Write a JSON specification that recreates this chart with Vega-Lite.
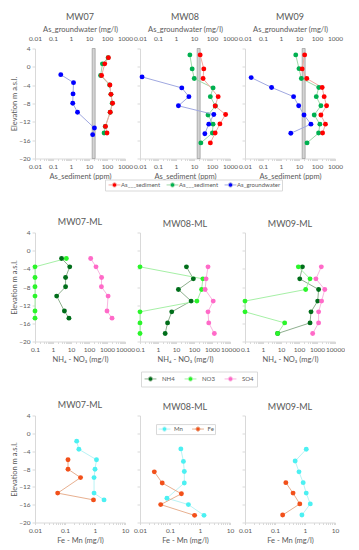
{
"$schema": "https://vega.github.io/schema/vega-lite/v6.json",
"padding": {"left": 10, "top": 12.5, "right": 0, "bottom": 0},
"background": "white",
"columns": 3,
"spacing": {"row": 74, "column": 15},
"bounds": "flush",
"datasets": {
"as": [
{"w":"MW07","v":"sedG","e":2.0,"x":115},{"w":"MW07","v":"sedG","e":0.65,"x":56},{"w":"MW07","v":"sedG","e":-1.9,"x":44},{"w":"MW07","v":"sedG","e":-3.95,"x":140},{"w":"MW07","v":"sedG","e":-6.0,"x":165},{"w":"MW07","v":"sedG","e":-7.95,"x":195},{"w":"MW07","v":"sedG","e":-9.9,"x":150},{"w":"MW07","v":"sedG","e":-13.0,"x":80},{"w":"MW07","v":"sedG","e":-14.45,"x":69},
{"w":"MW07","v":"sedR","e":2.0,"x":120},{"w":"MW07","v":"sedR","e":0.65,"x":75},{"w":"MW07","v":"sedR","e":-1.9,"x":50},{"w":"MW07","v":"sedR","e":-3.95,"x":145},{"w":"MW07","v":"sedR","e":-6.0,"x":166},{"w":"MW07","v":"sedR","e":-7.95,"x":204},{"w":"MW07","v":"sedR","e":-9.9,"x":151},{"w":"MW07","v":"sedR","e":-13.0,"x":82},{"w":"MW07","v":"sedR","e":-14.45,"x":100},
{"w":"MW07","v":"gw","e":-1.7,"x":0.27},{"w":"MW07","v":"gw","e":-3.45,"x":1.38},{"w":"MW07","v":"gw","e":-5.9,"x":1.3},{"w":"MW07","v":"gw","e":-7.95,"x":1.25},{"w":"MW07","v":"gw","e":-9.9,"x":2.3},{"w":"MW07","v":"gw","e":-13.35,"x":20},{"w":"MW07","v":"gw","e":-14.8,"x":16},
{"w":"MW08","v":"sedG","e":2.6,"x":5.9},{"w":"MW08","v":"sedG","e":-0.45,"x":7.9},{"w":"MW08","v":"sedG","e":-2.55,"x":10.3},{"w":"MW08","v":"sedG","e":-4.6,"x":115},{"w":"MW08","v":"sedG","e":-6.5,"x":81},{"w":"MW08","v":"sedG","e":-8.55,"x":155},{"w":"MW08","v":"sedG","e":-10.5,"x":60},{"w":"MW08","v":"sedG","e":-12.5,"x":115},{"w":"MW08","v":"sedG","e":-14.45,"x":105},{"w":"MW08","v":"sedG","e":-16.6,"x":24},
{"w":"MW08","v":"sedR","e":2.6,"x":22},{"w":"MW08","v":"sedR","e":-0.45,"x":35},{"w":"MW08","v":"sedR","e":-2.55,"x":32},{"w":"MW08","v":"sedR","e":-6.5,"x":220},{"w":"MW08","v":"sedR","e":-8.55,"x":150},{"w":"MW08","v":"sedR","e":-10.4,"x":570},{"w":"MW08","v":"sedR","e":-12.45,"x":275},{"w":"MW08","v":"sedR","e":-14.45,"x":150},{"w":"MW08","v":"sedR","e":-16.6,"x":81},
{"w":"MW08","v":"gw","e":-2.2,"x":0.013},{"w":"MW08","v":"gw","e":-4.6,"x":2.1},{"w":"MW08","v":"gw","e":-6.5,"x":5.2},{"w":"MW08","v":"gw","e":-8.5,"x":1.36},{"w":"MW08","v":"gw","e":-10.4,"x":126},{"w":"MW08","v":"gw","e":-12.5,"x":66},{"w":"MW08","v":"gw","e":-14.6,"x":40},
{"w":"MW09","v":"sedG","e":2.6,"x":6.6},{"w":"MW09","v":"sedG","e":-0.4,"x":10},{"w":"MW09","v":"sedG","e":-2.55,"x":13.5},{"w":"MW09","v":"sedG","e":-4.5,"x":126},{"w":"MW09","v":"sedG","e":-6.5,"x":91},{"w":"MW09","v":"sedG","e":-8.5,"x":165},{"w":"MW09","v":"sedG","e":-10.5,"x":70},{"w":"MW09","v":"sedG","e":-12.5,"x":145},{"w":"MW09","v":"sedG","e":-14.45,"x":123},{"w":"MW09","v":"sedG","e":-16.6,"x":28},
{"w":"MW09","v":"sedR","e":2.6,"x":20.6},{"w":"MW09","v":"sedR","e":-0.45,"x":15},{"w":"MW09","v":"sedR","e":-2.55,"x":27},{"w":"MW09","v":"sedR","e":-4.5,"x":194},{"w":"MW09","v":"sedR","e":-6.5,"x":250},{"w":"MW09","v":"sedR","e":-8.5,"x":340},{"w":"MW09","v":"sedR","e":-10.5,"x":165},{"w":"MW09","v":"sedR","e":-12.5,"x":295},{"w":"MW09","v":"sedR","e":-14.45,"x":204},
{"w":"MW09","v":"gw","e":-2.35,"x":0.022},{"w":"MW09","v":"gw","e":-4.5,"x":0.3},{"w":"MW09","v":"gw","e":-6.5,"x":5},{"w":"MW09","v":"gw","e":-8.5,"x":9.6},{"w":"MW09","v":"gw","e":-10.5,"x":19},{"w":"MW09","v":"gw","e":-12.5,"x":46},{"w":"MW09","v":"gw","e":-14.5,"x":3.5}
],
"n": [
{"w":"MW07","v":"NH4","e":-1.72,"x":3.0},{"w":"MW07","v":"NH4","e":-3.56,"x":8.5},{"w":"MW07","v":"NH4","e":-5.9,"x":5.0},{"w":"MW07","v":"NH4","e":-7.96,"x":5.0},{"w":"MW07","v":"NH4","e":-10.0,"x":1.6},{"w":"MW07","v":"NH4","e":-13.3,"x":4.3},{"w":"MW07","v":"NH4","e":-14.86,"x":7.7},
{"w":"MW07","v":"NO3","e":-1.72,"x":5.5},{"w":"MW07","v":"NO3","e":-3.56,"x":0.1},{"w":"MW07","v":"NO3","e":-5.9,"x":0.1},{"w":"MW07","v":"NO3","e":-7.96,"x":0.1},{"w":"MW07","v":"NO3","e":-10.0,"x":0.1},{"w":"MW07","v":"NO3","e":-13.3,"x":0.1},{"w":"MW07","v":"NO3","e":-14.86,"x":0.1},
{"w":"MW07","v":"SO4","e":-1.72,"x":124},{"w":"MW07","v":"SO4","e":-3.56,"x":245},{"w":"MW07","v":"SO4","e":-5.9,"x":500},{"w":"MW07","v":"SO4","e":-7.96,"x":490},{"w":"MW07","v":"SO4","e":-10.0,"x":1150},{"w":"MW07","v":"SO4","e":-13.3,"x":1000},{"w":"MW07","v":"SO4","e":-14.86,"x":1900},
{"w":"MW08","v":"NH4","e":-3.56,"x":38},{"w":"MW08","v":"NH4","e":-6.2,"x":92},{"w":"MW08","v":"NH4","e":-8.55,"x":13.6},{"w":"MW08","v":"NH4","e":-11.1,"x":69},{"w":"MW08","v":"NH4","e":-13.47,"x":5.8},{"w":"MW08","v":"NH4","e":-15.9,"x":3.4},{"w":"MW08","v":"NH4","e":-18.24,"x":2.5},
{"w":"MW08","v":"NO3","e":-3.56,"x":0.1},{"w":"MW08","v":"NO3","e":-6.2,"x":310},{"w":"MW08","v":"NO3","e":-8.55,"x":265},{"w":"MW08","v":"NO3","e":-11.1,"x":145},{"w":"MW08","v":"NO3","e":-13.47,"x":0.1},{"w":"MW08","v":"NO3","e":-15.9,"x":0.1},{"w":"MW08","v":"NO3","e":-18.24,"x":0.1},
{"w":"MW08","v":"SO4","e":-3.56,"x":600},{"w":"MW08","v":"SO4","e":-6.2,"x":470},{"w":"MW08","v":"SO4","e":-8.55,"x":415},{"w":"MW08","v":"SO4","e":-11.1,"x":1170},{"w":"MW08","v":"SO4","e":-13.47,"x":600},{"w":"MW08","v":"SO4","e":-15.9,"x":660},{"w":"MW08","v":"SO4","e":-18.24,"x":1350},
{"w":"MW09","v":"NH4","e":-3.56,"x":155},{"w":"MW09","v":"NH4","e":-6.2,"x":110},{"w":"MW09","v":"NH4","e":-8.55,"x":1230},{"w":"MW09","v":"NH4","e":-11.1,"x":1090},{"w":"MW09","v":"NH4","e":-13.47,"x":465},{"w":"MW09","v":"NH4","e":-15.9,"x":410},{"w":"MW09","v":"NH4","e":-18.24,"x":6.5},
{"w":"MW09","v":"NO3","e":-3.56,"x":92},{"w":"MW09","v":"NO3","e":-6.2,"x":410},{"w":"MW09","v":"NO3","e":-8.55,"x":235},{"w":"MW09","v":"NO3","e":-11.1,"x":0.1},{"w":"MW09","v":"NO3","e":-13.47,"x":0.1},{"w":"MW09","v":"NO3","e":-15.9,"x":16},{"w":"MW09","v":"NO3","e":-18.24,"x":6.5},
{"w":"MW09","v":"SO4","e":-3.56,"x":1740},{"w":"MW09","v":"SO4","e":-6.2,"x":870},{"w":"MW09","v":"SO4","e":-8.55,"x":2700},{"w":"MW09","v":"SO4","e":-11.1,"x":1800},{"w":"MW09","v":"SO4","e":-13.47,"x":1230},{"w":"MW09","v":"SO4","e":-15.9,"x":1230},{"w":"MW09","v":"SO4","e":-18.24,"x":575}
],
"fm": [
{"w":"MW07","v":"Mn","e":-1.75,"x":0.245},{"w":"MW07","v":"Mn","e":-3.57,"x":0.29},{"w":"MW07","v":"Mn","e":-5.92,"x":1.12},{"w":"MW07","v":"Mn","e":-8.04,"x":1.0},{"w":"MW07","v":"Mn","e":-9.93,"x":0.93},{"w":"MW07","v":"Mn","e":-13.41,"x":0.93},{"w":"MW07","v":"Mn","e":-14.93,"x":2.0},
{"w":"MW07","v":"Fe","e":-5.92,"x":0.126},{"w":"MW07","v":"Fe","e":-8.04,"x":0.126},{"w":"MW07","v":"Fe","e":-9.93,"x":0.33},{"w":"MW07","v":"Fe","e":-13.41,"x":0.057},{"w":"MW07","v":"Fe","e":-14.93,"x":0.89},
{"w":"MW08","v":"Mn","e":-3.49,"x":0.23},{"w":"MW08","v":"Mn","e":-6.3,"x":0.28},{"w":"MW08","v":"Mn","e":-8.57,"x":0.3},{"w":"MW08","v":"Mn","e":-11.14,"x":0.3},{"w":"MW08","v":"Mn","e":-14.55,"x":0.079},{"w":"MW08","v":"Mn","e":-15.98,"x":0.41},{"w":"MW08","v":"Mn","e":-18.4,"x":1.36},
{"w":"MW08","v":"Fe","e":-8.64,"x":0.03},{"w":"MW08","v":"Fe","e":-11.14,"x":0.055},{"w":"MW08","v":"Fe","e":-13.56,"x":0.24},{"w":"MW08","v":"Fe","e":-15.98,"x":0.049},{"w":"MW08","v":"Fe","e":-18.4,"x":0.66},
{"w":"MW09","v":"Mn","e":-3.57,"x":1.1},{"w":"MW09","v":"Mn","e":-6.22,"x":0.47},{"w":"MW09","v":"Mn","e":-8.64,"x":0.63},{"w":"MW09","v":"Mn","e":-11.06,"x":0.87},{"w":"MW09","v":"Mn","e":-13.41,"x":1.1},{"w":"MW09","v":"Mn","e":-15.83,"x":1.5},{"w":"MW09","v":"Mn","e":-18.33,"x":0.79},
{"w":"MW09","v":"Fe","e":-11.06,"x":0.23},{"w":"MW09","v":"Fe","e":-13.41,"x":0.4},{"w":"MW09","v":"Fe","e":-15.83,"x":0.67},{"w":"MW09","v":"Fe","e":-18.33,"x":0.18}
],
"band": [{"lo": 15, "hi": 22}]
},
"concat": [
{"width": 90, "height": 110, "title": {"text": "MW07", "offset": 3},
 "layer": [
  {"data": {"name": "band"}, "mark": {"type": "rect", "fill": "#D4D4D4", "stroke": "#8C8C8C", "strokeWidth": 0.6}, "encoding": {"x": {"field": "lo", "type": "quantitative", "scale": {"type": "log", "domain": [0.01, 1000], "nice": false}, "axis": null}, "x2": {"field": "hi"}}},
  {"data": {"name": "as"}, "transform": [{"filter": "datum.w == 'MW07' && datum.v != 'gw'"}], "mark": {"type": "line", "strokeWidth": 1},
   "encoding": {"x": {"field": "x", "type": "quantitative", "scale": {"type": "log", "domain": [0.01, 1000], "nice": false}, "axis": {"orient": "bottom", "title": "As_sediment (ppm)", "values": [0.01,0.02,0.03,0.04,0.05,0.06,0.07,0.08,0.09,0.1,0.2,0.3,0.4,0.5,0.6,0.7,0.8,0.9,1,2,3,4,5,6,7,8,9,10,20,30,40,50,60,70,80,90,100,200,300,400,500,600,700,800,900,1000], "format": "~g", "labelExpr": "abs(log(datum.value)/LN10 - round(log(datum.value)/LN10)) < 0.001 ? datum.label : ''", "tickSize": 2, "labelPadding": 3, "titlePadding": 2, "labelOverlap": false, "labelFlush": false, "labelBound": false}},
    "y": {"field": "e", "type": "quantitative", "scale": {"domain": [-20, 4], "nice": false, "zero": false}, "axis": {"values": [-20,-16,-12,-8,-4,0,4], "title": "Elevation m a.s.l.", "titleX": -16.5, "titleY": 55, "labelPadding": 2, "tickSize": 3}},
    "stroke": {"field": "v", "type": "nominal", "scale": {"domain": ["sedR","sedG","gw"], "range": ["#F4A8A0","#9FD8A8","#A0A8E0"]}, "legend": null},
    "order": {"field": "e"}}},
  {"data": {"name": "as"}, "transform": [{"filter": "datum.w == 'MW07' && datum.v != 'gw'"}], "mark": {"type": "point", "filled": true, "size": 24, "opacity": 1},
   "encoding": {"x": {"field": "x", "type": "quantitative", "axis": null},
    "y": {"field": "e", "type": "quantitative", "axis": {"values": [-20,-16,-12,-8,-4,0,4], "title": "Elevation m a.s.l.", "titleX": -16.5, "titleY": 55, "labelPadding": 2, "tickSize": 3}},
    "color": {"field": "v", "type": "nominal", "scale": {"domain": ["sedR","sedG","gw"], "range": ["#FF0000","#00B050","#0000FF"]}, "legend": null}}},
  {"data": {"name": "as"}, "transform": [{"filter": "datum.w == 'MW07' && datum.v == 'gw'"}], "mark": {"type": "line", "strokeWidth": 1},
   "encoding": {"x": {"field": "x", "type": "quantitative", "axis": {"orient": "top", "title": "As_groundwater (mg/l)", "values": [0.01,0.1,1,10,100,1000], "format": "~g", "domain": false, "ticks": false, "labelPadding": 7.5, "titlePadding": 2, "labelOverlap": false, "labelFlush": false}},
    "y": {"field": "e", "type": "quantitative", "axis": {"values": [-20,-16,-12,-8,-4,0,4], "title": "Elevation m a.s.l.", "titleX": -16.5, "titleY": 55, "labelPadding": 2, "tickSize": 3}},
    "stroke": {"field": "v", "type": "nominal", "legend": null},
    "order": {"field": "e"}}},
  {"data": {"name": "as"}, "transform": [{"filter": "datum.w == 'MW07' && datum.v == 'gw'"}], "mark": {"type": "point", "filled": true, "size": 24, "opacity": 1},
   "encoding": {"x": {"field": "x", "type": "quantitative", "axis": null},
    "y": {"field": "e", "type": "quantitative", "axis": {"values": [-20,-16,-12,-8,-4,0,4], "title": "Elevation m a.s.l.", "titleX": -16.5, "titleY": 55, "labelPadding": 2, "tickSize": 3}},
    "color": {"field": "v", "type": "nominal", "legend": null}}}
 ],
 "resolve": {"axis": {"x": "independent"}}
},
{"width": 90, "height": 110, "title": {"text": "MW08", "offset": 3},
 "layer": [
  {"data": {"name": "band"}, "mark": {"type": "rect", "fill": "#D4D4D4", "stroke": "#8C8C8C", "strokeWidth": 0.6}, "encoding": {"x": {"field": "lo", "type": "quantitative", "scale": {"type": "log", "domain": [0.01, 1000], "nice": false}, "axis": null}, "x2": {"field": "hi"}}},
  {"data": {"name": "as"}, "transform": [{"filter": "datum.w == 'MW08' && datum.v != 'gw'"}], "mark": {"type": "line", "strokeWidth": 1},
   "encoding": {"x": {"field": "x", "type": "quantitative", "scale": {"type": "log", "domain": [0.01, 1000], "nice": false}, "axis": {"orient": "bottom", "title": "As_sediment (ppm)", "values": [0.01,0.02,0.03,0.04,0.05,0.06,0.07,0.08,0.09,0.1,0.2,0.3,0.4,0.5,0.6,0.7,0.8,0.9,1,2,3,4,5,6,7,8,9,10,20,30,40,50,60,70,80,90,100,200,300,400,500,600,700,800,900,1000], "format": "~g", "labelExpr": "abs(log(datum.value)/LN10 - round(log(datum.value)/LN10)) < 0.001 ? datum.label : ''", "tickSize": 2, "labelPadding": 3, "titlePadding": 2, "labelOverlap": false, "labelFlush": false, "labelBound": false}},
    "y": {"field": "e", "type": "quantitative", "scale": {"domain": [-20, 4], "nice": false, "zero": false}, "axis": {"values": [-20,-16,-12,-8,-4,0,4], "labels": false, "title": null, "tickSize": 3}},
    "stroke": {"field": "v", "type": "nominal", "scale": {"domain": ["sedR","sedG","gw"], "range": ["#F4A8A0","#9FD8A8","#A0A8E0"]},
      "legend": {"orient": "none", "legendX": -35, "legendY": 131, "direction": "horizontal", "columns": 3, "title": null, "symbolType": "M-1.7,0H-0.6M0.6,0H1.7M-0.6,0A0.6,0.6 0 1 0 0.6,0A0.6,0.6 0 1 0 -0.6,0Z", "symbolSize": 49, "symbolStrokeWidth": 1, "symbolOffset": 4.5, "labelOffset": 2.5, "columnPadding": 3, "padding": 1, "labelFontSize": 6, "labelColor": "#595959", "strokeColor": "#D9D9D9", "fillColor": "#FFFFFF", "labelExpr": "datum.value == 'gw' ? 'As_groundwater' : 'As___sediment'"}},
    "order": {"field": "e"}}},
  {"data": {"name": "as"}, "transform": [{"filter": "datum.w == 'MW08' && datum.v != 'gw'"}], "mark": {"type": "point", "filled": true, "size": 24, "opacity": 1},
   "encoding": {"x": {"field": "x", "type": "quantitative", "axis": null},
    "y": {"field": "e", "type": "quantitative", "axis": {"values": [-20,-16,-12,-8,-4,0,4], "labels": false, "title": null, "tickSize": 3}},
    "color": {"field": "v", "type": "nominal", "scale": {"domain": ["sedR","sedG","gw"], "range": ["#FF0000","#00B050","#0000FF"]},
      "legend": {"orient": "none", "legendX": -35, "legendY": 131, "direction": "horizontal", "columns": 3, "title": null, "symbolType": "M-1.7,0H-0.6M0.6,0H1.7M-0.6,0A0.6,0.6 0 1 0 0.6,0A0.6,0.6 0 1 0 -0.6,0Z", "symbolSize": 49, "symbolStrokeWidth": 1, "symbolOffset": 4.5, "labelOffset": 2.5, "columnPadding": 3, "padding": 1, "labelFontSize": 6, "labelColor": "#595959", "strokeColor": "#D9D9D9", "fillColor": "#FFFFFF", "labelExpr": "datum.value == 'gw' ? 'As_groundwater' : 'As___sediment'"}}}},
  {"data": {"name": "as"}, "transform": [{"filter": "datum.w == 'MW08' && datum.v == 'gw'"}], "mark": {"type": "line", "strokeWidth": 1},
   "encoding": {"x": {"field": "x", "type": "quantitative", "axis": {"orient": "top", "title": "As_groundwater (mg/l)", "values": [0.01,0.1,1,10,100,1000], "format": "~g", "domain": false, "ticks": false, "labelPadding": 7.5, "titlePadding": 2, "labelOverlap": false, "labelFlush": false}},
    "y": {"field": "e", "type": "quantitative", "axis": {"values": [-20,-16,-12,-8,-4,0,4], "labels": false, "title": null, "tickSize": 3}},
    "stroke": {"field": "v", "type": "nominal", "legend": null},
    "order": {"field": "e"}}},
  {"data": {"name": "as"}, "transform": [{"filter": "datum.w == 'MW08' && datum.v == 'gw'"}], "mark": {"type": "point", "filled": true, "size": 24, "opacity": 1},
   "encoding": {"x": {"field": "x", "type": "quantitative", "axis": null},
    "y": {"field": "e", "type": "quantitative", "axis": {"values": [-20,-16,-12,-8,-4,0,4], "labels": false, "title": null, "tickSize": 3}},
    "color": {"field": "v", "type": "nominal", "legend": null}}}
 ],
 "resolve": {"axis": {"x": "independent"}}
},
{"width": 90, "height": 110, "title": {"text": "MW09", "offset": 3},
 "layer": [
  {"data": {"name": "band"}, "mark": {"type": "rect", "fill": "#D4D4D4", "stroke": "#8C8C8C", "strokeWidth": 0.6}, "encoding": {"x": {"field": "lo", "type": "quantitative", "scale": {"type": "log", "domain": [0.01, 1000], "nice": false}, "axis": null}, "x2": {"field": "hi"}}},
  {"data": {"name": "as"}, "transform": [{"filter": "datum.w == 'MW09' && datum.v != 'gw'"}], "mark": {"type": "line", "strokeWidth": 1},
   "encoding": {"x": {"field": "x", "type": "quantitative", "scale": {"type": "log", "domain": [0.01, 1000], "nice": false}, "axis": {"orient": "bottom", "title": "As_sediment (ppm)", "values": [0.01,0.02,0.03,0.04,0.05,0.06,0.07,0.08,0.09,0.1,0.2,0.3,0.4,0.5,0.6,0.7,0.8,0.9,1,2,3,4,5,6,7,8,9,10,20,30,40,50,60,70,80,90,100,200,300,400,500,600,700,800,900,1000], "format": "~g", "labelExpr": "abs(log(datum.value)/LN10 - round(log(datum.value)/LN10)) < 0.001 ? datum.label : ''", "tickSize": 2, "labelPadding": 3, "titlePadding": 2, "labelOverlap": false, "labelFlush": false, "labelBound": false}},
    "y": {"field": "e", "type": "quantitative", "scale": {"domain": [-20, 4], "nice": false, "zero": false}, "axis": {"values": [-20,-16,-12,-8,-4,0,4], "labels": false, "title": null, "tickSize": 3}},
    "stroke": {"field": "v", "type": "nominal", "scale": {"domain": ["sedR","sedG","gw"], "range": ["#F4A8A0","#9FD8A8","#A0A8E0"]}, "legend": null},
    "order": {"field": "e"}}},
  {"data": {"name": "as"}, "transform": [{"filter": "datum.w == 'MW09' && datum.v != 'gw'"}], "mark": {"type": "point", "filled": true, "size": 24, "opacity": 1},
   "encoding": {"x": {"field": "x", "type": "quantitative", "axis": null},
    "y": {"field": "e", "type": "quantitative", "axis": {"values": [-20,-16,-12,-8,-4,0,4], "labels": false, "title": null, "tickSize": 3}},
    "color": {"field": "v", "type": "nominal", "scale": {"domain": ["sedR","sedG","gw"], "range": ["#FF0000","#00B050","#0000FF"]}, "legend": null}}},
  {"data": {"name": "as"}, "transform": [{"filter": "datum.w == 'MW09' && datum.v == 'gw'"}], "mark": {"type": "line", "strokeWidth": 1},
   "encoding": {"x": {"field": "x", "type": "quantitative", "axis": {"orient": "top", "title": "As_groundwater (mg/l)", "values": [0.01,0.1,1,10,100,1000], "format": "~g", "domain": false, "ticks": false, "labelPadding": 7.5, "titlePadding": 2, "labelOverlap": false, "labelFlush": false}},
    "y": {"field": "e", "type": "quantitative", "axis": {"values": [-20,-16,-12,-8,-4,0,4], "labels": false, "title": null, "tickSize": 3}},
    "stroke": {"field": "v", "type": "nominal", "legend": null},
    "order": {"field": "e"}}},
  {"data": {"name": "as"}, "transform": [{"filter": "datum.w == 'MW09' && datum.v == 'gw'"}], "mark": {"type": "point", "filled": true, "size": 24, "opacity": 1},
   "encoding": {"x": {"field": "x", "type": "quantitative", "axis": null},
    "y": {"field": "e", "type": "quantitative", "axis": {"values": [-20,-16,-12,-8,-4,0,4], "labels": false, "title": null, "tickSize": 3}},
    "color": {"field": "v", "type": "nominal", "legend": null}}}
 ],
 "resolve": {"axis": {"x": "independent"}}
},
{"width": 90, "height": 109, "title": "MW07-ML",
 "data": {"name": "n"}, "transform": [{"filter": "datum.w == 'MW07'"}],
 "encoding": {
  "x": {"field": "x", "type": "quantitative", "scale": {"type": "log", "domain": [0.1, 10000], "nice": false}, "axis": {"title": "NH₄ - NO₃ (mg/l)", "values": [0.1,0.2,0.3,0.4,0.5,0.6,0.7,0.8,0.9,1,2,3,4,5,6,7,8,9,10,20,30,40,50,60,70,80,90,100,200,300,400,500,600,700,800,900,1000,2000,3000,4000,5000,6000,7000,8000,9000,10000], "format": "~g", "labelExpr": "abs(log(datum.value)/LN10 - round(log(datum.value)/LN10)) < 0.001 ? datum.label : ''", "tickSize": 2, "labelPadding": 3, "titlePadding": 2, "labelOverlap": false, "labelFlush": false, "labelBound": false}},
  "y": {"field": "e", "type": "quantitative", "scale": {"domain": [-20, 4], "nice": false, "zero": false}, "axis": {"values": [-20,-16,-12,-8,-4,0,4], "title": "Elevation m a.s.l.", "titleX": -16.5, "titleY": 54.5, "labelPadding": 2, "tickSize": 3}}
 },
 "layer": [
  {"mark": {"type": "line", "strokeWidth": 1}, "encoding": {"stroke": {"field": "v", "type": "nominal", "scale": {"domain": ["NH4","NO3","SO4"], "range": ["#8FB08F","#A6F0A6","#F9B6E0"]}, "legend": null}, "order": {"field": "e"}}},
  {"mark": {"type": "point", "filled": true, "size": 24, "opacity": 1}, "encoding": {"color": {"field": "v", "type": "nominal", "scale": {"domain": ["NH4","NO3","SO4"], "range": ["#006E1A","#2AF52A","#FF6AC8"]}, "legend": null}}}
 ]
},
{"width": 90, "height": 109, "title": "MW08-ML",
 "data": {"name": "n"}, "transform": [{"filter": "datum.w == 'MW08'"}],
 "encoding": {
  "x": {"field": "x", "type": "quantitative", "scale": {"type": "log", "domain": [0.1, 10000], "nice": false}, "axis": {"title": "NH₄ - NO₃ (mg/l)", "values": [0.1,0.2,0.3,0.4,0.5,0.6,0.7,0.8,0.9,1,2,3,4,5,6,7,8,9,10,20,30,40,50,60,70,80,90,100,200,300,400,500,600,700,800,900,1000,2000,3000,4000,5000,6000,7000,8000,9000,10000], "format": "~g", "labelExpr": "abs(log(datum.value)/LN10 - round(log(datum.value)/LN10)) < 0.001 ? datum.label : ''", "tickSize": 2, "labelPadding": 3, "titlePadding": 2, "labelOverlap": false, "labelFlush": false, "labelBound": false}},
  "y": {"field": "e", "type": "quantitative", "scale": {"domain": [-20, 4], "nice": false, "zero": false}, "axis": {"values": [-20,-16,-12,-8,-4,0,4], "labels": false, "title": null, "tickSize": 3}}
 },
 "layer": [
  {"mark": {"type": "line", "strokeWidth": 1}, "encoding": {"stroke": {"field": "v", "type": "nominal", "scale": {"domain": ["NH4","NO3","SO4"], "range": ["#8FB08F","#A6F0A6","#F9B6E0"]},
     "legend": {"orient": "none", "legendX": 1, "legendY": 139, "direction": "horizontal", "columns": 3, "title": null, "symbolType": "M-1.7,0H-0.6M0.6,0H1.7M-0.6,0A0.6,0.6 0 1 0 0.6,0A0.6,0.6 0 1 0 -0.6,0Z", "symbolSize": 49, "symbolStrokeWidth": 1, "symbolOffset": 2.5, "labelOffset": 7.5, "columnPadding": 7, "padding": 3, "labelFontSize": 6, "labelColor": "#595959", "strokeColor": "#D9D9D9", "fillColor": "#FFFFFF"}}, "order": {"field": "e"}}},
  {"mark": {"type": "point", "filled": true, "size": 24, "opacity": 1}, "encoding": {"color": {"field": "v", "type": "nominal", "scale": {"domain": ["NH4","NO3","SO4"], "range": ["#006E1A","#2AF52A","#FF6AC8"]},
     "legend": {"orient": "none", "legendX": 1, "legendY": 139, "direction": "horizontal", "columns": 3, "title": null, "symbolType": "M-1.7,0H-0.6M0.6,0H1.7M-0.6,0A0.6,0.6 0 1 0 0.6,0A0.6,0.6 0 1 0 -0.6,0Z", "symbolSize": 49, "symbolStrokeWidth": 1, "symbolOffset": 2.5, "labelOffset": 7.5, "columnPadding": 7, "padding": 3, "labelFontSize": 6, "labelColor": "#595959", "strokeColor": "#D9D9D9", "fillColor": "#FFFFFF"}}}}
 ]
},
{"width": 90, "height": 109, "title": "MW09-ML",
 "data": {"name": "n"}, "transform": [{"filter": "datum.w == 'MW09'"}],
 "encoding": {
  "x": {"field": "x", "type": "quantitative", "scale": {"type": "log", "domain": [0.1, 10000], "nice": false}, "axis": {"title": "NH₄ - NO₃ (mg/l)", "values": [0.1,0.2,0.3,0.4,0.5,0.6,0.7,0.8,0.9,1,2,3,4,5,6,7,8,9,10,20,30,40,50,60,70,80,90,100,200,300,400,500,600,700,800,900,1000,2000,3000,4000,5000,6000,7000,8000,9000,10000], "format": "~g", "labelExpr": "abs(log(datum.value)/LN10 - round(log(datum.value)/LN10)) < 0.001 ? datum.label : ''", "tickSize": 2, "labelPadding": 3, "titlePadding": 2, "labelOverlap": false, "labelFlush": false, "labelBound": false}},
  "y": {"field": "e", "type": "quantitative", "scale": {"domain": [-20, 4], "nice": false, "zero": false}, "axis": {"values": [-20,-16,-12,-8,-4,0,4], "labels": false, "title": null, "tickSize": 3}}
 },
 "layer": [
  {"mark": {"type": "line", "strokeWidth": 1}, "encoding": {"stroke": {"field": "v", "type": "nominal", "scale": {"domain": ["NH4","NO3","SO4"], "range": ["#8FB08F","#A6F0A6","#F9B6E0"]}, "legend": null}, "order": {"field": "e"}}},
  {"mark": {"type": "point", "filled": true, "size": 24, "opacity": 1}, "encoding": {"color": {"field": "v", "type": "nominal", "scale": {"domain": ["NH4","NO3","SO4"], "range": ["#006E1A","#2AF52A","#FF6AC8"]}, "legend": null}}}
 ]
},
{"width": 90, "height": 107, "title": "MW07-ML",
 "data": {"name": "fm"}, "transform": [{"filter": "datum.w == 'MW07'"}],
 "encoding": {
  "x": {"field": "x", "type": "quantitative", "scale": {"type": "log", "domain": [0.01, 10], "nice": false}, "axis": {"title": "Fe - Mn (mg/l)", "values": [0.01,0.02,0.03,0.04,0.05,0.06,0.07,0.08,0.09,0.1,0.2,0.3,0.4,0.5,0.6,0.7,0.8,0.9,1,2,3,4,5,6,7,8,9,10], "format": "~g", "labelExpr": "abs(log(datum.value)/LN10 - round(log(datum.value)/LN10)) < 0.001 ? datum.label : ''", "tickSize": 2, "labelPadding": 3, "titlePadding": 2, "labelOverlap": false, "labelFlush": false, "labelBound": false}},
  "y": {"field": "e", "type": "quantitative", "scale": {"domain": [-20, 4], "nice": false, "zero": false}, "axis": {"values": [-20,-16,-12,-8,-4,0,4], "title": "Elevation m a.s.l.", "titleX": -16.5, "titleY": 53.5, "labelPadding": 2, "tickSize": 3}}
 },
 "layer": [
  {"mark": {"type": "line", "strokeWidth": 1}, "encoding": {"stroke": {"field": "v", "type": "nominal", "scale": {"domain": ["Mn","Fe"], "range": ["#B9F3F5","#E8B090"]}, "legend": null}, "order": {"field": "e"}}},
  {"mark": {"type": "point", "filled": true, "size": 24, "opacity": 1}, "encoding": {"color": {"field": "v", "type": "nominal", "scale": {"domain": ["Mn","Fe"], "range": ["#4CF0F2","#F2501A"]}, "legend": null}}}
 ]
},
{"width": 90, "height": 107, "title": "MW08-ML",
 "data": {"name": "fm"}, "transform": [{"filter": "datum.w == 'MW08'"}],
 "encoding": {
  "x": {"field": "x", "type": "quantitative", "scale": {"type": "log", "domain": [0.01, 10], "nice": false}, "axis": {"title": "Fe - Mn (mg/l)", "values": [0.01,0.02,0.03,0.04,0.05,0.06,0.07,0.08,0.09,0.1,0.2,0.3,0.4,0.5,0.6,0.7,0.8,0.9,1,2,3,4,5,6,7,8,9,10], "format": "~g", "labelExpr": "abs(log(datum.value)/LN10 - round(log(datum.value)/LN10)) < 0.001 ? datum.label : ''", "tickSize": 2, "labelPadding": 3, "titlePadding": 2, "labelOverlap": false, "labelFlush": false, "labelBound": false}},
  "y": {"field": "e", "type": "quantitative", "scale": {"domain": [-20, 4], "nice": false, "zero": false}, "axis": {"values": [-20,-16,-12,-8,-4,0,4], "labels": false, "title": null, "tickSize": 3}}
 },
 "layer": [
  {"mark": {"type": "line", "strokeWidth": 1}, "encoding": {"stroke": {"field": "v", "type": "nominal", "scale": {"domain": ["Mn","Fe"], "range": ["#B9F3F5","#E8B090"]},
     "legend": {"orient": "none", "legendX": 16, "legendY": 8.6, "direction": "horizontal", "columns": 2, "title": null, "symbolType": "M-1.7,0H-0.6M0.6,0H1.7M-0.6,0A0.6,0.6 0 1 0 0.6,0A0.6,0.6 0 1 0 -0.6,0Z", "symbolSize": 49, "symbolStrokeWidth": 1, "symbolOffset": 4, "labelOffset": 5.5, "columnPadding": 6.5, "padding": 0.5, "labelFontSize": 6, "labelColor": "#595959", "strokeColor": "#D9D9D9", "fillColor": "#FFFFFF"}}, "order": {"field": "e"}}},
  {"mark": {"type": "point", "filled": true, "size": 24, "opacity": 1}, "encoding": {"color": {"field": "v", "type": "nominal", "scale": {"domain": ["Mn","Fe"], "range": ["#4CF0F2","#F2501A"]},
     "legend": {"orient": "none", "legendX": 16, "legendY": 8.6, "direction": "horizontal", "columns": 2, "title": null, "symbolType": "M-1.7,0H-0.6M0.6,0H1.7M-0.6,0A0.6,0.6 0 1 0 0.6,0A0.6,0.6 0 1 0 -0.6,0Z", "symbolSize": 49, "symbolStrokeWidth": 1, "symbolOffset": 4, "labelOffset": 5.5, "columnPadding": 6.5, "padding": 0.5, "labelFontSize": 6, "labelColor": "#595959", "strokeColor": "#D9D9D9", "fillColor": "#FFFFFF"}}}}
 ]
},
{"width": 90, "height": 107, "title": "MW09-ML",
 "data": {"name": "fm"}, "transform": [{"filter": "datum.w == 'MW09'"}],
 "encoding": {
  "x": {"field": "x", "type": "quantitative", "scale": {"type": "log", "domain": [0.01, 10], "nice": false}, "axis": {"title": "Fe - Mn (mg/l)", "values": [0.01,0.02,0.03,0.04,0.05,0.06,0.07,0.08,0.09,0.1,0.2,0.3,0.4,0.5,0.6,0.7,0.8,0.9,1,2,3,4,5,6,7,8,9,10], "format": "~g", "labelExpr": "abs(log(datum.value)/LN10 - round(log(datum.value)/LN10)) < 0.001 ? datum.label : ''", "tickSize": 2, "labelPadding": 3, "titlePadding": 2, "labelOverlap": false, "labelFlush": false, "labelBound": false}},
  "y": {"field": "e", "type": "quantitative", "scale": {"domain": [-20, 4], "nice": false, "zero": false}, "axis": {"values": [-20,-16,-12,-8,-4,0,4], "labels": false, "title": null, "tickSize": 3}}
 },
 "layer": [
  {"mark": {"type": "line", "strokeWidth": 1}, "encoding": {"stroke": {"field": "v", "type": "nominal", "scale": {"domain": ["Mn","Fe"], "range": ["#B9F3F5","#E8B090"]}, "legend": null}, "order": {"field": "e"}}},
  {"mark": {"type": "point", "filled": true, "size": 24, "opacity": 1}, "encoding": {"color": {"field": "v", "type": "nominal", "scale": {"domain": ["Mn","Fe"], "range": ["#4CF0F2","#F2501A"]}, "legend": null}}}
 ]
}
],
"resolve": {"scale": {"x": "independent", "y": "independent", "color": "independent", "stroke": "independent"}, "legend": {"color": "independent", "stroke": "independent"}},
"config": {
 "font": "Lato",
 "view": {"stroke": null},
 "axis": {"grid": false, "domainColor": "#D9D9D9", "tickColor": "#D9D9D9", "labelColor": "#595959", "titleColor": "#595959", "labelFontSize": 6.5, "titleFontSize": 7.5, "titleFontWeight": "normal", "labelFont": "Lato", "titleFont": "Lato"},
 "title": {"font": "Lato", "fontSize": 9, "fontWeight": "normal", "color": "#595959", "offset": 3, "anchor": "middle", "frame": "group"},
 "legend": {"labelFont": "Lato"}
}
}
